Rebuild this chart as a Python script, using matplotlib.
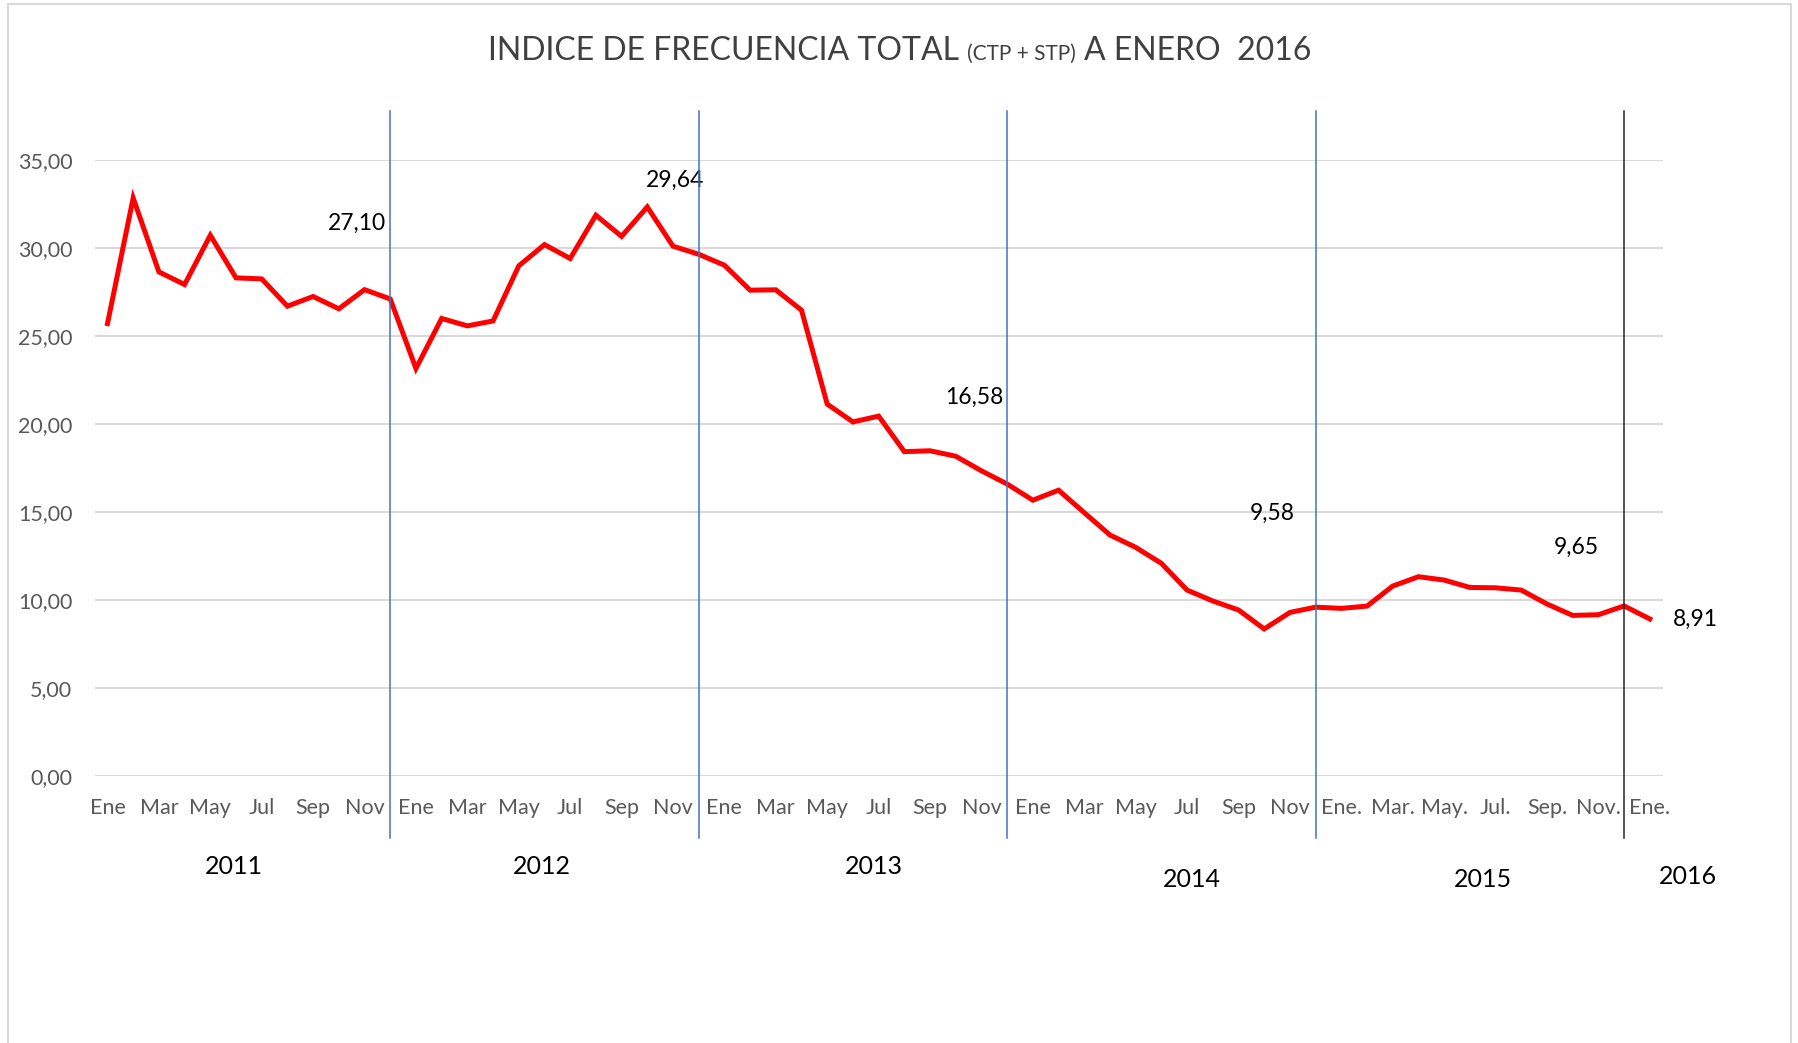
import matplotlib
matplotlib.use("Agg")
import matplotlib.pyplot as plt
from matplotlib.patches import Rectangle
from matplotlib.ticker import FuncFormatter

plt.rcParams['font.family'] = ['Lato', 'DejaVu Sans']

# indice de frecuencia mensual, ene 2011 .. ene 2016
valores = [25.70, 32.84, 28.64, 27.92, 30.72, 28.30, 28.24, 26.69, 27.24, 26.54, 27.63, 27.10,
           23.15, 25.99, 25.57, 25.85, 28.98, 30.19, 29.40, 31.86, 30.66, 32.33, 30.10, 29.64,
           29.02, 27.60, 27.62, 26.46, 21.12, 20.11, 20.44, 18.42, 18.47, 18.16, 17.33, 16.58,
           15.66, 16.23, 14.95, 13.68, 12.98, 12.07, 10.55, 9.93, 9.42, 8.34, 9.28, 9.58,
           9.51, 9.64, 10.78, 11.31, 11.12, 10.70, 10.68, 10.55, 9.76, 9.11, 9.15, 9.65,
           8.91]

meses = (['Ene', 'Mar', 'May', 'Jul', 'Sep', 'Nov'] * 4
         + ['Ene.', 'Mar.', 'May.', 'Jul.', 'Sep.', 'Nov.', 'Ene.'])
anios = ['2011', '2012', '2013', '2014', '2015', '2016']

etiquetados = [11, 23, 35, 47, 59, 60]   # puntos con etiqueta de valor
cortes_azul = [11, 23, 35, 47]           # separadores de año
corte_negro = 59

# posicion de textos (no son datos)
off_etiq = [(-33, 76), (-24, 74), (-33, 87), (-43, 94), (-48, 59), (46, 0)]
pos_anios = [(4.93, -0.148), (16.9, -0.148), (29.8, -0.148),
             (42.2, -0.169), (53.5, -0.169), (61.5, -0.1645)]

fig = plt.figure(figsize=(17.99, 10.43), dpi=100)
ax = fig.add_axes([0.0526, 0.2563, 0.8716, 0.5903])

x = list(range(len(valores)))
ax.plot(x, valores, color='#FF0000', lw=3.6, solid_joinstyle='miter', zorder=3)

ax.set_xlim(-0.5, len(valores) - 0.5)
ax.set_ylim(0, 35)
ax.set_yticks(range(0, 36, 5))
ax.yaxis.set_major_formatter(FuncFormatter(lambda v, p: f"{v:.2f}".replace('.', ',')))
ax.set_xticks(range(0, len(valores), 2))
ax.set_xticklabels(meses)
ax.tick_params(axis='both', length=0, labelsize=15.5, labelcolor='#595959')
ax.tick_params(axis='y', pad=16)
ax.tick_params(axis='x', pad=16)
ax.grid(axis='y', color='#D9D9D9', lw=1.5)
ax.set_axisbelow(True)
for s in ax.spines.values():
    s.set_visible(False)

for i in cortes_azul:
    ax.axvline(i, ymin=-0.101, ymax=1.0796, color='#4472C4', lw=1.1, clip_on=False, zorder=4)
ax.axvline(corte_negro, ymin=-0.101, ymax=1.0796, color='#262626', lw=1.1, clip_on=False, zorder=4)

for i, (dx, dy) in zip(etiquetados, off_etiq):
    ax.annotate(f"{valores[i]:.2f}".replace('.', ','), (i, valores[i]),
                xytext=(dx, dy), textcoords='offset pixels',
                ha='center', va='center', fontsize=16.5, color='black', annotation_clip=False)

for a, (px, py) in zip(anios, pos_anios):
    ax.text(px, py, a, transform=ax.get_xaxis_transform(), ha='center', va='center',
            fontsize=18, color='black', clip_on=False)

# borde del area del grafico
fig.patches.append(Rectangle((8 / 1799, -0.02), 1783 / 1799, 1 - 4 / 1043 + 0.02,
                             transform=fig.transFigure, fill=False,
                             edgecolor='#D9D9D9', lw=1.5))

# titulo con parte central mas pequena
yb = 1 - 60 / 1043
partes = [("INDICE DE FRECUENCIA TOTAL", 23), ("(CTP + STP)", 15), ("A ENERO  2016", 23)]
textos = [fig.text(0, yb, t, fontsize=fs, color='#404040', va='baseline', ha='left')
          for t, fs in partes]
fig.canvas.draw()
r = fig.canvas.get_renderer()
anchos = [t.get_window_extent(r).width for t in textos]
hueco = 8
total = sum(anchos) + hueco * (len(anchos) - 1)
xp = 1799 / 2 - total / 2
for t, w in zip(textos, anchos):
    t.set_x(xp / 1799)
    xp += w + hueco

fig.savefig('out.png', dpi=100)
